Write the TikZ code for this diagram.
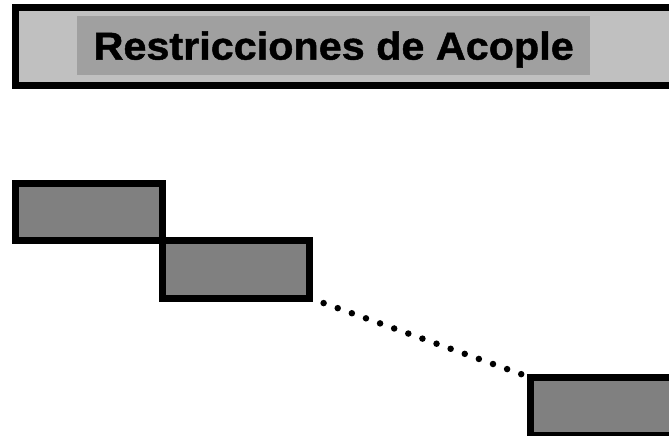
\documentclass[tikz,border=0pt]{standalone}
\usepackage{fontspec}
\setmainfont{Liberation Sans}
\newfontfamily\titlefont[FakeStretch=1.06,FakeBold=1.2]{Liberation Sans}
\usetikzlibrary{positioning}
\definecolor{bargray}{HTML}{C0C0C0}
\definecolor{labelgray}{HTML}{A0A0A0}
\definecolor{boxgray}{HTML}{808080}
\tikzset{
  x=1pt,y=-1pt,
}
\tikzstyle{every node}=[outer sep=0pt,inner sep=0pt]
\tikzstyle{titlebar}=[draw,line width=7pt,fill=bargray,minimum width=674.5pt,minimum height=77.7pt]
\tikzstyle{titlelabel}=[fill=labelgray,minimum width=512.7pt,minimum height=59pt,text depth=0pt,font=\titlefont\fontsize{39}{42}\selectfont\bfseries]
\tikzstyle{block}=[draw,line width=7pt,fill=boxgray,minimum width=147pt,minimum height=57.5pt]
\tikzstyle{link}=[line width=6.5pt,line cap=round,dash pattern=on 0pt off 15pt,shorten <=15pt]

\begin{document}
\begin{tikzpicture}
    \clip (0,0) rectangle (669,436);
    \node[titlebar] (bar) at (352.75,46.15) {};
    \node[titlelabel] (label) at (333.7,45.5) {Restricciones de Acople};
    \node[block] (b1) at (89,211.75) {};
    \node[block,anchor=north west] (b2) at (b1.south east) {};
    \node[block,below right=79.5pt and 221pt of b2] (b3) {};
    \draw[link] (b2.south east)--(b3.north west);
  \end{tikzpicture}
\end{document}
